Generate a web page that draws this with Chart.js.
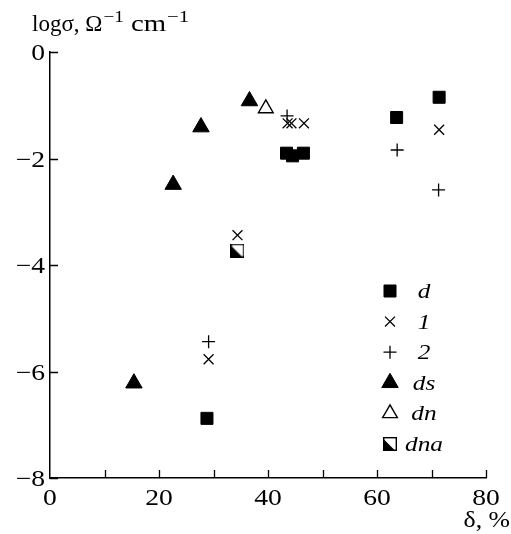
<!DOCTYPE html>
<html>
<head>
<meta charset="utf-8">
<script src="https://cdn.jsdelivr.net/npm/chart.js@4/dist/chart.umd.min.js"></script>
<style>
  html, body { margin: 0; padding: 0; background: #fff; }
  canvas { display: block; }
</style>
</head>
<body>
<canvas id="grafica" width="511" height="534"></canvas>
<script>
// delta (%) and log(sigma) for every sample series
const dX = [28.8, 43.4, 44.5, 46.5, 63.6, 71.4];
const dY = [-6.88, -1.90, -1.95, -1.90, -1.23, -0.85];
const s1X = [29.1, 34.4, 43.6, 44.3, 46.6, 71.4];
const s1Y = [-5.77, -3.44, -1.34, -1.34, -1.34, -1.46];
const s2X = [29.1, 43.5, 63.7, 71.3];
const s2Y = [-5.44, -1.20, -1.84, -2.59];
const dsX = [15.4, 22.6, 27.7, 36.6];
const dsY = [-6.22, -2.49, -1.41, -0.92];
const dnX = [39.6];
const dnY = [-1.06];
const dnaX = [34.4];
const dnaY = [-3.73];

const xTicks = [0, 20, 40, 60, 80];
const yTicks = [0, -2, -4, -6, -8];

const FONT = '"Liberation Serif", "Times New Roman", serif';
const ANCHO = 1.2; // horizontal stretch of the lettering

function puntos(xs, ys) {
  return xs.map((x, i) => ({ x: x, y: ys[i] }));
}

// square with the lower-left half filled
function cuadroMitad() {
  const c = document.createElement('canvas');
  c.width = 14; c.height = 14;
  const g = c.getContext('2d');
  g.fillStyle = '#fff';
  g.fillRect(0, 0, 14, 14);
  g.fillStyle = '#000';
  g.beginPath();
  g.moveTo(0, 1.5);
  g.lineTo(0, 14);
  g.lineTo(12.5, 14);
  g.closePath();
  g.fill();
  g.strokeStyle = '#000';
  g.lineWidth = 1.4;
  g.strokeRect(0.7, 0.7, 12.6, 12.6);
  return c;
}

const estilos = [
  { label: 'd', xs: dX, ys: dY, pointStyle: 'rect', radius: 8.5, bg: '#000', bw: 1 },
  { label: '1', xs: s1X, ys: s1Y, pointStyle: 'crossRot', radius: 7, bg: '#000', bw: 1.3 },
  { label: '2', xs: s2X, ys: s2Y, pointStyle: 'cross', radius: 6.5, bg: '#000', bw: 1.3 },
  { label: 'ds', xs: dsX, ys: dsY, pointStyle: 'triangle', radius: 9.5, bg: '#000', bw: 1 },
  { label: 'dn', xs: dnX, ys: dnY, pointStyle: 'triangle', radius: 8.5, bg: '#fff', bw: 1.4 },
  { label: 'dna', xs: dnaX, ys: dnaY, pointStyle: cuadroMitad(), radius: 7, bg: '#000', bw: 0 }
];

const datasets = estilos.map(e => ({
  label: e.label,
  data: puntos(e.xs, e.ys),
  pointStyle: e.pointStyle,
  pointRadius: e.radius,
  pointHoverRadius: e.radius,
  pointBackgroundColor: e.bg,
  pointBorderColor: '#000',
  pointBorderWidth: e.bw,
  showLine: false
}));

const menos = v => (v < 0 ? '−' + Math.abs(v) : String(v));

// text drawn a little wider than the font's own proportions
function texto(ctx, s, x, y, font, align, sx) {
  ctx.save();
  ctx.font = font;
  const w = ctx.measureText(s).width * sx;
  const x0 = align === 'right' ? x - w : align === 'center' ? x - w / 2 : x;
  ctx.translate(x0, y);
  ctx.scale(sx, 1);
  ctx.textAlign = 'left';
  ctx.fillText(s, 0, 0);
  ctx.restore();
  return w;
}

// inward tick marks, tick labels, axis captions and legend
const adornos = {
  id: 'adornos',
  afterDraw(chart) {
    const ctx = chart.ctx;
    const sx = chart.scales.x;
    const sy = chart.scales.y;
    const area = chart.chartArea;
    ctx.save();
    ctx.strokeStyle = '#000';
    ctx.lineWidth = 1.3;
    ctx.beginPath();
    for (let v = 10; v <= 80; v += 10) {
      const px = Math.round(sx.getPixelForValue(v)) + 0.5;
      ctx.moveTo(px, area.bottom);
      ctx.lineTo(px, area.bottom - 8);
    }
    yTicks.forEach(v => {
      const py = Math.round(sy.getPixelForValue(v)) + 0.5;
      ctx.moveTo(area.left, py);
      ctx.lineTo(area.left + 8, py);
    });
    ctx.stroke();

    ctx.fillStyle = '#000';
    ctx.textBaseline = 'alphabetic';
    const fTick = '23px ' + FONT;

    xTicks.forEach(v => {
      texto(ctx, menos(v), sx.getPixelForValue(v), 505, fTick, 'center', ANCHO);
    });
    yTicks.forEach(v => {
      texto(ctx, menos(v), 45, sy.getPixelForValue(v) + 8, fTick, 'right', ANCHO);
    });

    // y caption with superscripts
    let x = 32;
    x += texto(ctx, 'logσ, Ω', x, 31, '23px ' + FONT, 'left', 1.0);
    x += 1;
    x += texto(ctx, '−1', x, 22, '16px ' + FONT, 'left', ANCHO);
    x += texto(ctx, ' cm', x, 31, '23px ' + FONT, 'left', 1.25);
    x += 1;
    texto(ctx, '−1', x, 22, '16px ' + FONT, 'left', 1.3);

    // x caption
    texto(ctx, 'δ, %', 510, 527, '23px ' + FONT, 'right', 1.12);

    // legend
    chart.data.datasets.forEach((ds, i) => {
      const y = 291 + i * 30.6;
      ctx.fillStyle = ds.pointBackgroundColor;
      ctx.strokeStyle = '#000';
      ctx.lineWidth = ds.pointBorderWidth;
      Chart.helpers.drawPoint(ctx, {
        pointStyle: ds.pointStyle,
        radius: ds.pointRadius,
        borderWidth: ds.pointBorderWidth,
        rotation: 0
      }, 390, y);
      ctx.fillStyle = '#000';
      texto(ctx, ds.label, 424, y + 7, 'italic 22px ' + FONT, 'center', 1.15);
    });
    ctx.restore();
  }
};

new Chart(document.getElementById('grafica').getContext('2d'), {
  type: 'scatter',
  data: { datasets: datasets },
  options: {
    responsive: false,
    devicePixelRatio: 1,
    animation: false,
    layout: { padding: { top: 52, right: 25, left: 0, bottom: 0 } },
    scales: {
      x: {
        type: 'linear',
        min: 0,
        max: 80,
        afterBuildTicks: s => { s.ticks = xTicks.map(v => ({ value: v })); },
        afterFit: s => { s.height = 56; },
        ticks: { display: false },
        grid: { display: false, drawTicks: false },
        border: { display: true, color: '#000', width: 1.5 }
      },
      y: {
        type: 'linear',
        min: -8,
        max: 0,
        afterBuildTicks: s => { s.ticks = yTicks.map(v => ({ value: v })); },
        afterFit: s => { s.width = 50; },
        ticks: { display: false },
        grid: { display: false, drawTicks: false },
        border: { display: true, color: '#000', width: 1.5 }
      }
    },
    plugins: {
      legend: { display: false },
      tooltip: { enabled: false }
    }
  },
  plugins: [adornos]
});
</script>
</body>
</html>
